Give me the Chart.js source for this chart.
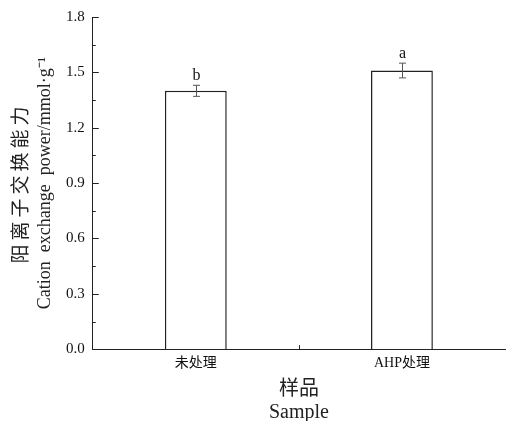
<!DOCTYPE html>
<html lang="zh">
<head>
  <meta charset="UTF-8">
  <title>阳离子交换能力</title>
  <style>
    body { margin: 0; background: #fff; }
    canvas { display: block; }
  </style>
</head>
<body>
  <canvas id="cecChart" width="509" height="421"></canvas>

  <script src="https://cdn.jsdelivr.net/npm/chart.js"></script>
  <script>
    // data
    const samples = ['未处理', 'AHP处理'];
    const cecMeans = [1.40, 1.51];
    const cecErrors = [0.03, 0.04];
    const sigLetters = ['b', 'a'];
    const yTicks = [0, 0.3, 0.6, 0.9, 1.2, 1.5, 1.8];
    const yTitleZh = '阳离子交换能力';
    const yTitleEn = 'Cation  exchange  power/mmol·g⁻¹';

    const fontFam = "'Liberation Serif', 'Noto Sans CJK SC', serif";

    // error bars, letters, inward ticks and the two-line y title
    const extras = {
      id: 'extras',
      afterDatasetsDraw(chart) {
        const c = chart.ctx;
        const y = chart.scales.y;
        const x = chart.scales.x;
        const meta = chart.getDatasetMeta(0);
        const area = chart.chartArea;
        c.save();

        // error bars
        c.strokeStyle = '#555';
        c.lineWidth = 1;
        meta.data.forEach((bar, i) => {
          const top = y.getPixelForValue(cecMeans[i] + cecErrors[i]);
          const bot = y.getPixelForValue(cecMeans[i] - cecErrors[i]);
          const cx = Math.round(bar.x) + 0.5;
          c.beginPath();
          c.moveTo(cx, top); c.lineTo(cx, bot);
          c.moveTo(cx - 3.5, top); c.lineTo(cx + 3.5, top);
          c.moveTo(cx - 3.5, bot); c.lineTo(cx + 3.5, bot);
          c.stroke();

          c.fillStyle = '#111';
          c.font = '16px ' + fontFam;
          c.textAlign = 'center';
          c.textBaseline = 'bottom';
          c.fillText(sigLetters[i], cx, top - 1);
        });

        // inward ticks on the y axis, minor ones halfway
        c.strokeStyle = '#222';
        for (let k = 0; k <= 12; k++) {
          const py = Math.round(y.getPixelForValue(k * 0.15)) + 0.5;
          const len = (k % 2 === 0) ? 6 : 3;
          c.beginPath();
          c.moveTo(area.left, py); c.lineTo(area.left + len, py);
          c.stroke();
        }

        // tick between the two categories
        const mid = Math.round((x.getPixelForValue(0) + x.getPixelForValue(1)) / 2) + 0.5;
        c.beginPath();
        c.moveTo(mid, area.bottom); c.lineTo(mid, area.bottom - 4);
        c.stroke();

        // y title, two rotated lines
        const cy = (area.top + area.bottom) / 2;
        c.fillStyle = '#222';
        c.textAlign = 'center';
        c.textBaseline = 'middle';
        c.translate(22, cy);
        c.rotate(-Math.PI / 2);
        c.font = '19px ' + fontFam;
        c.letterSpacing = '4px';
        c.fillText(yTitleZh, 0, 0);
        c.letterSpacing = '0px';
        c.font = '18px ' + fontFam;
        c.fillText(yTitleEn, 0, 23);

        c.restore();
      }
    };

    const ctx = document.getElementById('cecChart').getContext('2d');
    new Chart(ctx, {
      type: 'bar',
      data: {
        labels: samples,
        datasets: [{
          data: cecMeans,
          backgroundColor: '#fff',
          borderColor: '#222',
          borderWidth: 1.5,
          barPercentage: 0.3,
          categoryPercentage: 1.0
        }]
      },
      options: {
        responsive: false,
        animation: false,
        layout: { padding: { top: 8, right: 4, left: 58, bottom: -3 } },
        plugins: {
          legend: { display: false },
          tooltip: { enabled: false }
        },
        scales: {
          x: {
            grid: { display: false, drawTicks: false },
            border: { display: true, color: '#222', width: 1 },
            ticks: { color: '#111', font: { family: fontFam, size: 14 }, padding: 6 },
            title: {
              display: true,
              text: ['样品', 'Sample'],
              color: '#222',
              font: { family: fontFam, size: 20, lineHeight: 1.15 },
              padding: { top: 0, bottom: 0 }
            }
          },
          y: {
            min: 0,
            max: 1.8,
            afterBuildTicks(axis) {
              axis.ticks = yTicks.map(v => ({ value: v }));
            },
            grid: { display: false, drawTicks: false },
            border: { display: true, color: '#222', width: 1 },
            ticks: {
              color: '#111',
              font: { family: fontFam, size: 15 },
              padding: 8,
              callback: v => v.toFixed(1)
            }
          }
        }
      },
      plugins: [extras]
    });
  </script>
</body>
</html>
